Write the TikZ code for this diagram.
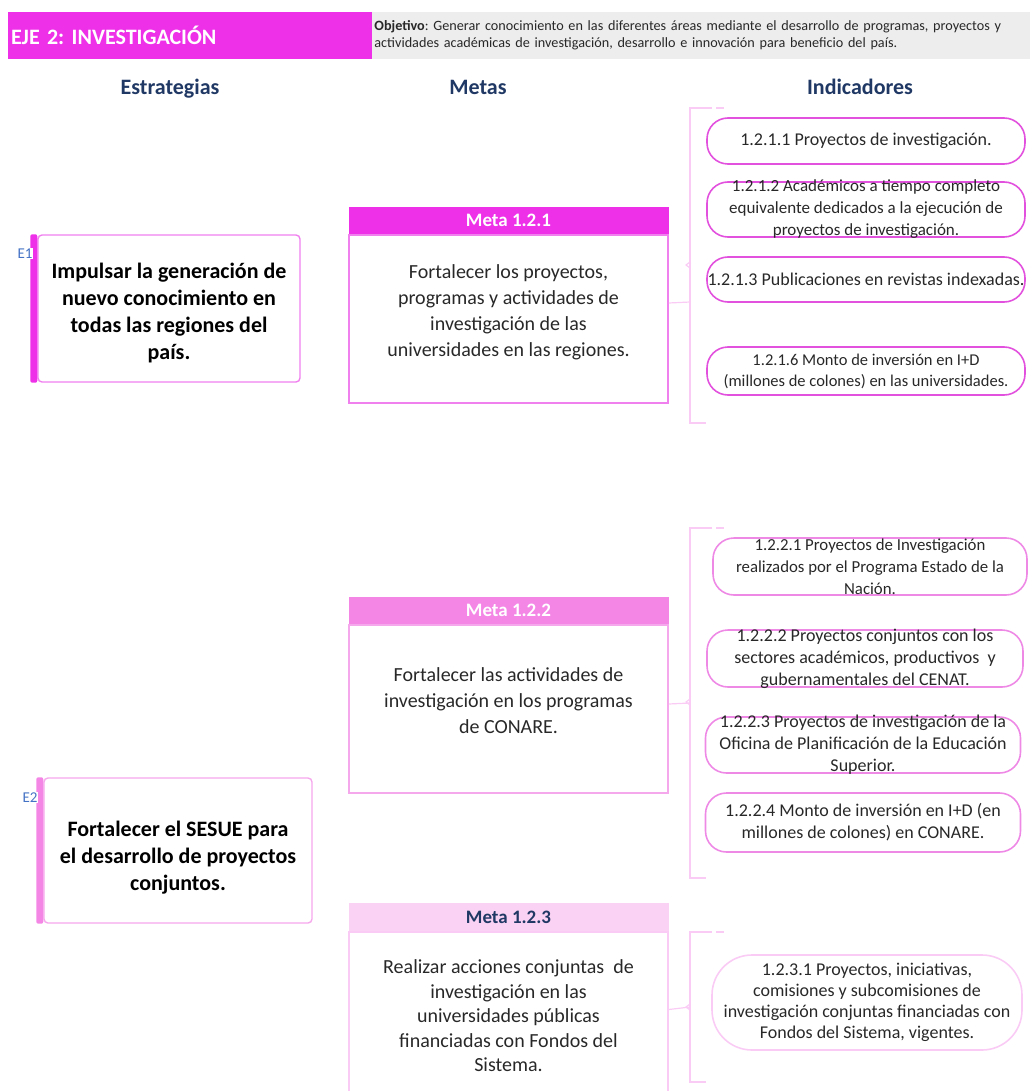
\documentclass[tikz,border=0pt]{standalone}
\usepackage{fontspec}
\setmainfont{Carlito}
\usetikzlibrary{positioning}
\definecolor{ejeM}{RGB}{238,48,232}
\definecolor{ejeP}{RGB}{244,134,230}
\definecolor{ejeL}{RGB}{250,210,243}
\definecolor{edgeM}{RGB}{240,128,238}
\definecolor{edgeP}{RGB}{246,168,236}
\definecolor{edgeL}{RGB}{250,204,245}
\definecolor{pillM}{RGB}{226,80,222}
\definecolor{pillP}{RGB}{238,138,230}
\definecolor{headN}{RGB}{31,56,100}
\definecolor{objG}{RGB}{237,237,237}
\definecolor{labB}{RGB}{68,114,196}
\definecolor{txtG}{RGB}{40,40,40}
\frenchspacing

\begin{document}
\begin{tikzpicture}[x=1pt,y=-1pt,
  col/.style={anchor=base, font=\bfseries\fontsize{22}{26}\selectfont, text=headN},
  strat/.style={draw=#1, line width=1.4pt, rounded corners=4pt,
    minimum width=262pt, minimum height=147pt, align=center,
    font=\bfseries\fontsize{22}{27}\selectfont, text=black},
  elab/.style={fill=white, text=labB, inner sep=1pt,
    font=\fontsize{15}{18}\selectfont},
  metah/.style={fill=#1, draw=#1, minimum width=319pt, minimum height=27pt,
    inner sep=0pt, font=\bfseries\fontsize{19}{21}\selectfont, text=white},
  metab/.style={draw=#1, line width=1.6pt, minimum width=319pt, align=center,
    font=\fontsize{20}{26}\selectfont, text=txtG},
  ind/.style={draw=#1, line width=1.6pt, rounded corners=21pt,
    minimum width=318pt, inner xsep=0pt, align=center,
    font=\fontsize{18}{22}\selectfont, text=txtG},
  brk/.style={draw=edgeL, line width=1.2pt}]
  \useasboundingbox (0,0) rectangle (1034,1091);
  \clip (0,0) rectangle (1034,1091);
  % title bar
  \node[fill=ejeM, minimum height=47pt, inner xsep=3pt, text width=358pt,
    align=left, text=white, font=\bfseries\fontsize{22}{26}\selectfont]
    (eje) at (190,35.5) {EJE 2: INVESTIGACIÓN};
  \node[fill=objG, minimum height=47pt, inner xsep=2pt, text width=654pt,
    align=left, anchor=west, text=txtG, font=\fontsize{14.2}{17}\selectfont]
    (obj) at (eje.east) {\textbf{Objetivo}: Generar conocimiento en las diferentes áreas mediante el desarrollo de programas, proyectos y\\
    actividades académicas de investigación, desarrollo e innovación para beneficio del país.};
  % column heads
  \node[col] (hEst) at (170,95) {Estrategias};
  \node[col] (hMet) at (478,95) {Metas};
  \node[col] (hInd) at (860,95) {Indicadores};
  % strategies
  \node[strat=edgeM] (e1) at (169,308.5)
    {\rule{0pt}{24pt}Impulsar la generación de\\nuevo conocimiento en\\todas las regiones del\\país.};
  \fill[ejeM, rounded corners=2pt] ([xshift=-7pt]e1.north west) rectangle (e1.south west);
  \node[elab] (e1lab) at (25,253.5) {E1};
  \node[strat=edgeP, minimum width=268pt, minimum height=145pt] (e2) at (178,850.5)
    {\rule{0pt}{30pt}Fortalecer el SESUE para\\el desarrollo de proyectos\\conjuntos.};
  \fill[ejeP, rounded corners=2pt] ([xshift=-7pt]e2.north west) rectangle (e2.south west);
  \node[elab] (e2lab) at (30,797.5) {E2};
  % goals
  \node[metah=ejeM] (m1h) at (508.5,220.5) {Meta 1.2.1};
  \node[metab=edgeM, minimum height=168pt, below=0pt of m1h] (m1)
    {Fortalecer los proyectos,\\programas y actividades de\\investigación de las\\universidades en las regiones.\rule[-16pt]{0pt}{0pt}};
  \node[metah=ejeP] (m2h) at (508.5,610.5) {Meta 1.2.2};
  \node[metab=edgeP, minimum height=168pt, below=0pt of m2h] (m2)
    {Fortalecer las actividades de\\investigación en los programas\\de CONARE.\rule[-16pt]{0pt}{0pt}};
  \node[metah=ejeL, text=headN, minimum height=28pt] (m3h) at (508.5,917) {Meta 1.2.3};
  \node[metab=edgeL, minimum height=168pt, below=0pt of m3h,
    font=\fontsize{20}{24.5}\selectfont] (m3)
    {Realizar acciones conjuntas\ \ de\\investigación en las\\universidades públicas\\financiadas con Fondos del\\Sistema.};
  % brackets
  \foreach \top/\bot/\mid in {108/423/265, 528/878/702, 932/1082/1007} {
    \draw[brk] (712,\top) -- (690,\top) -- (690,\bot) -- (706,\bot);
    \draw[brk] (716,\top) -- (724,\top);
    \draw[brk] (690,\mid-3) -- (686,\mid) -- (690,\mid+3);
  }
  \coordinate (b1) at (690,302);
  \coordinate (b2) at (690,703);
  \coordinate (b3) at (690,1007);
  \draw[brk] ([yshift=16pt]m1.east) -- (b1);
  \draw[brk] ([yshift=5pt]m2.east) -- (b2);
  \draw[brk] ([yshift=6.5pt]m3.east) -- (b3);
  % indicators
  \node[ind=pillM, minimum height=46pt] (p11) at (866,141)
    {1.2.1.1 Proyectos de investigación.};
  \node[ind=pillM, minimum height=55pt, inner ysep=-3.5pt,
    font=\fontsize{17}{22}\selectfont] (p12) at (866,209.5)
    {1.2.1.2 Académicos a tiempo completo\\equivalente dedicados a la ejecución de\\proyectos de investigación.};
  \node[ind=pillM, minimum height=45pt] (p13) at (866,279.5)
    {1.2.1.3 Publicaciones en revistas indexadas.};
  \node[ind=pillM, minimum height=48pt, font=\fontsize{16.5}{21}\selectfont] (p16) at (866,371)
    {1.2.1.6 Monto de inversión en I+D\\(millones de colones) en las universidades.};
  \node[ind=pillP, minimum width=314pt, minimum height=57pt, inner ysep=-2.5pt,
    font=\fontsize{16.8}{22}\selectfont] (p21) at (870,566.5)
    {1.2.2.1 Proyectos de Investigación\\realizados por el Programa Estado de la\\Nación.};
  \node[ind=pillP, minimum width=316pt, minimum height=57pt, inner ysep=-2.5pt] (p22) at (865,658.5)
    {1.2.2.2 Proyectos conjuntos con los\\sectores académicos, productivos\ \ y\\gubernamentales del CENAT.};
  \node[ind=pillP, minimum width=315pt, minimum height=56pt, inner ysep=-3pt] (p23) at (863,745)
    {1.2.2.3 Proyectos de investigación de la\\Oficina de Planificación de la Educación\\Superior.};
  \node[ind=pillP, minimum width=315pt, minimum height=59pt] (p24) at (863,822.5)
    {1.2.2.4 Monto de inversión en I+D (en\\millones de colones) en CONARE.};
  \node[ind=edgeL, minimum width=310pt, minimum height=95pt, rounded corners=40pt,
    font=\fontsize{18}{21}\selectfont] (p31) at (867,1002.5)
    {1.2.3.1 Proyectos, iniciativas,\\comisiones y subcomisiones de\\investigación conjuntas financiadas con\\Fondos del Sistema, vigentes.};
\end{tikzpicture}
\end{document}
